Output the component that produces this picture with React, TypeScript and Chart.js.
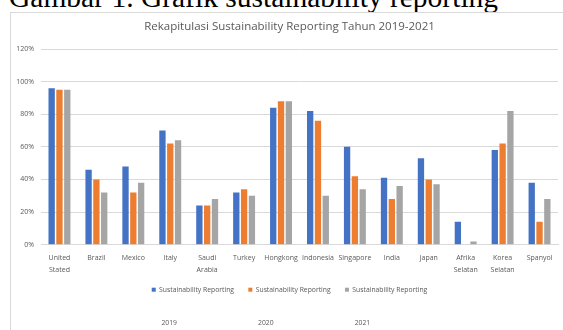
import React, { useEffect, useRef } from "react";
import { Chart, registerables } from "chart.js";

Chart.register(...registerables);

const categories: (string | string[])[] = [
  ["United", "Stated"],
  "Brazil",
  "Mexico",
  "Italy",
  ["Saudi", "Arabia"],
  "Turkey",
  "Hongkong",
  "Indonesia",
  "Singapore",
  "India",
  "Japan",
  ["Afrika", "Selatan"],
  ["Korea", "Selatan"],
  "Spanyol",
];

const series2019 = [96, 46, 48, 70, 24, 32, 84, 82, 60, 41, 53, 14, 58, 38];
const series2020 = [95, 40, 32, 62, 24, 34, 88, 76, 42, 28, 40, 0, 62, 14];
const series2021 = [95, 32, 38, 64, 28, 30, 88, 30, 34, 36, 37, 2, 82, 28];

const seriesLabels = [
  "Sustainability Reporting",
  "Sustainability Reporting",
  "Sustainability Reporting",
];
const years = ["2019", "2020", "2021"];
const colors = ["#4472C4", "#ED7D31", "#A5A5A5"];

const chartTitle = "Rekapitulasi Sustainability Reporting Tahun 2019-2021";
const caption = "Gambar 1. Grafik sustainability reporting";

const FONT = "'Open Sans', 'Noto Sans', sans-serif";
const TEXT = "#595959";

export default function App() {
  const ref = useRef<HTMLCanvasElement | null>(null);

  useEffect(() => {
    if (!ref.current) return;
    const yearPlugin = {
      id: "yearLabels",
      afterDraw(chart: any) {
        const lg = chart.legend;
        if (!lg || !lg.legendHitBoxes) return;
        const ctx = chart.ctx;
        ctx.save();
        ctx.font = `6.8px ${FONT}`;
        ctx.fillStyle = TEXT;
        ctx.textAlign = "center";
        ctx.textBaseline = "middle";
        lg.legendHitBoxes.forEach((hb: any, i: number) => {
          ctx.fillText(years[i], hb.left + 17.5, lg.bottom + 20);
        });
        ctx.restore();
      },
    };
    const chart = new Chart(ref.current, {
      type: "bar",
      data: {
        labels: categories,
        datasets: [series2019, series2020, series2021].map((d, i) => ({
          label: seriesLabels[i],
          data: d,
          backgroundColor: colors[i],
          borderWidth: 0,
          categoryPercentage: 0.634,
          barPercentage: 0.81,
        })),
      },
      options: {
        animation: false,
        responsive: false,
        maintainAspectRatio: false,
        layout: { padding: { left: 21, right: 5, top: 0, bottom: 26.9 } },
        plugins: {
          title: {
            display: true,
            text: chartTitle,
            color: TEXT,
            font: { family: FONT, size: 11.5, weight: "normal" },
            padding: { top: 20.1, bottom: 15.1 },
          },
          legend: {
            position: "bottom",
            labels: {
              color: TEXT,
              font: { family: FONT, size: 6.8 },
              boxWidth: 4,
              boxHeight: 4,
              padding: 14.3,
            },
          },
          tooltip: { enabled: false },
        },
        scales: {
          x: {
            grid: { display: false, drawTicks: false },
            border: { display: true, color: "#d9d9d9" },
            ticks: {
              color: TEXT,
              font: { family: FONT, size: 7, lineHeight: 1.65 },
              padding: 7.5,
              maxRotation: 0,
              autoSkip: false,
            },
            afterFit(scale: any) {
              scale.height = 27.3;
            },
          },
          y: {
            min: 0,
            max: 120,
            grid: { color: "#d9d9d9", drawTicks: false },
            border: { display: false },
            ticks: {
              stepSize: 20,
              color: TEXT,
              font: { family: FONT, size: 7 },
              padding: 7,
              callback: (v: any) => `${v}%`,
            },
            afterFit(scale: any) {
              scale.width = 20;
            },
            afterUpdate(scale: any) {
              scale._computeLabelArea = () => undefined;
            },
          },
        },
      },
      plugins: [yearPlugin],
    });
    return () => chart.destroy();
  }, []);

  return (
    <div
      style={{
        position: "fixed",
        left: 0,
        top: 0,
        width: 563,
        height: 330,
        overflow: "hidden",
        background: "#fff",
      }}
    >
      <div
        style={{
          position: "absolute",
          left: 9,
          top: -17,
          fontFamily: "'Liberation Serif', 'Times New Roman', serif",
          fontSize: 29.5,
          lineHeight: "29px",
          color: "#000",
          whiteSpace: "nowrap",
        }}
      >
        {caption}
      </div>
      <div
        style={{
          position: "absolute",
          left: 10,
          top: 12,
          width: 700,
          height: 500,
          border: "1px solid #d9d9d9",
          background: "#fff",
        }}
      />
      <canvas
        ref={ref}
        width={563}
        height={330}
        style={{ position: "absolute", left: 0, top: 0, width: 563, height: 330 }}
      />
    </div>
  );
}
